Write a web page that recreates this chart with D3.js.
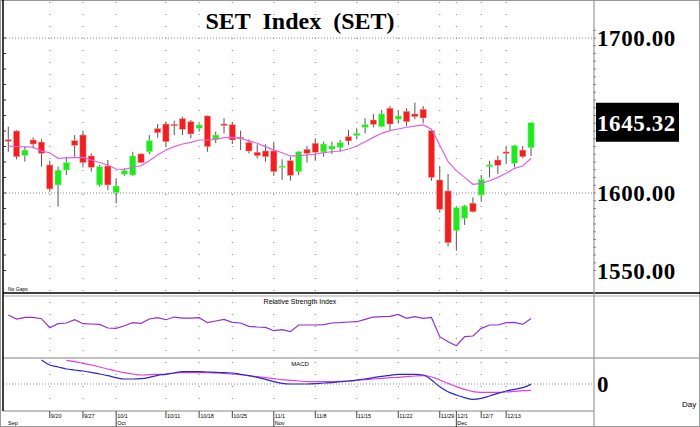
<!DOCTYPE html>
<html><head><meta charset="utf-8">
<script src="https://cdn.jsdelivr.net/npm/d3@7"></script>
<style>body{margin:0;background:#fff}svg{display:block}</style></head>
<body><svg id="c" width="700" height="427"></svg>
<script>
const opens=[1634.4,1640.0,1624.3,1634.2,1632.9,1618.1,1605.2,1614.8,1633.8,1637.4,1623.9,1605.2,1617.4,1600.2,1612.1,1611.6,1625.2,1626.6,1641.5,1644.5,1644.3,1647.9,1646.0,1641.8,1649.7,1634.8,1644.5,1644.1,1635.9,1632.5,1626.3,1627.1,1627.1,1616.6,1620.8,1613.8,1628.2,1632.1,1626.5,1628.2,1629.5,1636.3,1637.0,1642.4,1647.1,1642.8,1654.7,1647.6,1652.7,1651.0,1654.0,1640.2,1608.4,1601.3,1575.7,1583.7,1593.4,1598.7,1617.0,1621.3,1626.5,1619.2,1627.7,1629.2];
const closes=[1634.0,1623.4,1627.7,1631.6,1625.6,1602.6,1614.8,1619.6,1630.8,1619.6,1616.6,1617.0,1605.2,1604.5,1614.4,1623.9,1619.6,1633.8,1638.9,1633.1,1643.7,1641.1,1638.1,1643.9,1629.9,1637.4,1643.7,1634.2,1635.5,1627.1,1624.1,1623.4,1613.8,1617.4,1611.4,1626.6,1625.6,1626.3,1631.6,1630.3,1632.5,1633.6,1638.5,1644.1,1644.3,1651.0,1644.5,1649.7,1646.0,1649.2,1648.4,1610.1,1589.5,1567.9,1590.5,1591.6,1587.9,1608.8,1618.1,1617.9,1625.6,1630.5,1623.4,1645.32];
const highs=[1642.8,1640.5,1629.9,1635.9,1634.6,1620.8,1617.0,1623.4,1637.4,1640.2,1625.6,1618.1,1621.3,1609.5,1615.9,1626.6,1625.6,1637.4,1644.5,1646.0,1646.7,1649.2,1647.1,1645.0,1650.0,1639.6,1648.2,1645.8,1640.2,1634.6,1631.4,1631.4,1633.1,1621.7,1623.4,1627.0,1630.3,1635.3,1633.1,1633.1,1634.2,1640.7,1641.8,1648.2,1651.0,1653.6,1656.1,1653.1,1654.7,1658.3,1656.1,1641.1,1617.4,1612.3,1591.2,1592.3,1597.2,1611.6,1620.8,1623.9,1629.9,1631.0,1630.3,1645.4];
const lows=[1626.6,1621.7,1620.2,1628.8,1617.0,1600.8,1591.2,1611.6,1623.4,1616.6,1613.8,1604.1,1601.9,1593.4,1611.0,1611.0,1619.2,1625.0,1635.7,1629.9,1637.4,1637.4,1635.3,1639.6,1626.6,1632.1,1638.5,1631.6,1627.7,1625.6,1622.4,1620.2,1611.0,1608.4,1607.9,1611.6,1619.6,1620.8,1623.4,1625.2,1626.6,1631.0,1634.6,1638.5,1642.4,1642.4,1640.7,1645.0,1643.2,1647.6,1645.0,1607.9,1587.3,1565.4,1562.8,1579.4,1587.3,1594.4,1610.1,1612.3,1618.7,1616.6,1622.4,1623.9];
const ma=[1630.3,1630.0,1629.8,1629.5,1627.0,1626.0,1622.4,1622.6,1622.8,1623.0,1621.3,1619.7,1618.1,1615.5,1615.3,1616.6,1617.6,1620.8,1624.5,1627.7,1629.9,1631.6,1632.7,1634.2,1634.2,1634.6,1635.7,1635.9,1635.3,1633.6,1632.1,1629.9,1627.7,1626.0,1623.9,1623.9,1624.5,1625.0,1626.0,1626.6,1627.1,1628.4,1630.3,1633.1,1635.9,1638.5,1640.2,1641.3,1642.4,1643.2,1643.9,1641.1,1631.0,1620.2,1614.4,1610.1,1605.6,1606.2,1607.9,1610.1,1612.7,1615.9,1617.4,1622.4];
const rsi=[72.7,66.3,68.9,68.9,66.8,52.4,58.8,59.9,65.2,58.8,58.3,57.7,51.9,51.3,55.6,60.4,59.3,66.3,68.4,65.2,69.5,67.9,67.9,68.4,60.4,63.1,65.7,60.9,59.9,54.5,53.5,52.9,47.6,49.2,46.0,56.7,56.7,56.7,57.2,59.9,60.4,61.5,62.0,65.7,69.5,70.0,70.5,73.7,67.3,70.0,67.3,68.9,38.0,30.0,23.6,38.0,39.1,51.3,56.7,56.7,60.4,60.9,57.7,67.3];
const macd=[null,null,null,null,7.2,5.7,5.1,4.5,4.2,3.9,3.5,3.0,2.5,1.9,1.5,1.5,1.6,2.0,2.6,2.9,3.3,3.7,3.7,3.7,3.6,3.5,3.4,3.3,2.9,2.5,2.0,1.4,0.7,0.2,0,0,0,0.1,0.3,0.4,0.7,0.9,1.2,1.5,1.9,2.3,2.6,2.9,2.9,2.9,2.7,1.2,-0.8,-2.3,-3.3,-4.1,-4.6,-4.3,-3.6,-2.8,-2.1,-1.6,-1.1,-0.1];
const signal=[null,null,null,null,null,null,null,7.1,6.7,6.2,5.7,5.1,4.5,3.9,3.4,3.0,2.7,2.8,2.9,3.0,3.3,3.4,3.4,3.4,3.4,3.3,3.2,3.0,2.8,2.5,2.2,1.9,1.6,1.3,1.1,0.9,0.7,0.7,0.7,0.7,0.8,0.9,1.1,1.3,1.5,1.7,1.9,2.0,2.2,2.4,2.5,2.1,1.2,0.2,-0.8,-1.6,-2.3,-2.5,-2.5,-2.5,-2.4,-2.2,-2.0,-1.9];
const dayTicks=[[5,"9/20"],[9,"9/27"],[13,"10/1"],[19,"10/11"],[23,"10/18"],[27,"10/25"],[32,"11/1"],[37,"11/8"],[42,"11/15"],[47,"11/22"],[52,"11/29"],[54,"12/1"],[57,"12/7"],[60,"12/13"]];
const monthTicks=[[0,"Sep"],[13,"Oct"],[32,"Nov"],[54,"Dec"]];
const priceTicks=[1700,1600,1550];
const lastPrice=1645.32;

const svg=d3.select("#c");
const L=3,R=594;
const x=d3.scaleBand().domain(d3.range(opens.length)).range([3.1,3.1+8.33*opens.length]).padding(0.25);
const cx=i=>x(i)+x.bandwidth()/2;
const y=d3.scaleLinear().domain([1550,1700]).range([270.5,38]);
const yr=d3.scaleLinear().domain([0,100]).range([360.4,298]);
const ym=d3.scaleLinear().domain([-5,5]).range([400.7,367.3]);

svg.append("rect").attr("x",0.5).attr("y",0.5).attr("width",699).attr("height",426).attr("fill","none").attr("stroke","#999");
const grid=svg.append("g").attr("stroke","#777").attr("stroke-dasharray","1,11");
dayTicks.forEach(([i])=>{grid.append("line").attr("x1",cx(i)).attr("x2",cx(i)).attr("y1",2).attr("y2",410);});
[1700,1600].forEach(v=>svg.append("line").attr("x1",L).attr("x2",R).attr("y1",y(v)).attr("y2",y(v)).attr("stroke","#888").attr("stroke-dasharray","1,2"));
svg.append("line").attr("x1",L).attr("x2",R).attr("y1",ym(0)).attr("y2",ym(0)).attr("stroke","#888").attr("stroke-dasharray","1,2");

const cg=svg.append("g");
opens.forEach((o,i)=>{
  const c=closes[i],up=c>=o,col=up?"#22e822":"#f02020";
  cg.append("line").attr("x1",cx(i)).attr("x2",cx(i)).attr("y1",y(highs[i])).attr("y2",y(lows[i])).attr("stroke","#555").attr("stroke-width",1);
  const t=y(Math.max(o,c)),b=y(Math.min(o,c));
  cg.append("rect").attr("x",x(i)).attr("width",x.bandwidth()).attr("y",t).attr("height",Math.max(1.5,b-t)).attr("fill",col).attr("stroke",up?"#8f8":"#f99").attr("stroke-width",0.5);
});
svg.append("path").datum(ma).attr("fill","none").attr("stroke","#e060e0").attr("stroke-width",1.2)
 .attr("d",d3.line().x((d,i)=>cx(i)).y(d=>y(d)));
svg.append("text").attr("x",300).attr("y",29).attr("text-anchor","middle").attr("font-family","Liberation Serif").attr("font-weight","bold").attr("font-size",24).attr("word-spacing",6).text("SET Index (SET)");
svg.append("text").attr("x",8).attr("y",291).attr("font-family","Liberation Sans").attr("font-size",5).text("No Gaps");

svg.append("path").datum(rsi).attr("fill","none").attr("stroke","#9030d0").attr("stroke-width",1.2)
 .attr("d",d3.line().x((d,i)=>cx(i)).y(d=>yr(d)));
svg.append("text").attr("x",300).attr("y",304).attr("text-anchor","middle").attr("font-family","Liberation Sans").attr("font-size",7).text("Relative  Strength  Index");
const lm=d3.line().defined(d=>d!=null).x((d,i)=>cx(i)).y(d=>ym(d)).curve(d3.curveMonotoneX);
svg.append("path").datum(signal).attr("fill","none").attr("stroke","#e040e0").attr("stroke-width",1.2).attr("d",lm);
svg.append("path").datum(macd).attr("fill","none").attr("stroke","#2828c8").attr("stroke-width",1.2).attr("d",lm);
svg.append("text").attr("x",300).attr("y",366).attr("text-anchor","middle").attr("font-family","Liberation Sans").attr("font-size",6).text("MACD");

svg.append("line").attr("x1",L).attr("x2",700).attr("y1",293).attr("y2",293).attr("stroke","#000").attr("stroke-width",1.5);
svg.append("line").attr("x1",L).attr("x2",700).attr("y1",296).attr("y2",296).attr("stroke","#aaa").attr("stroke-width",1.2);
svg.append("line").attr("x1",L).attr("x2",700).attr("y1",358).attr("y2",358).attr("stroke","#aaa").attr("stroke-width",1.5);
svg.append("line").attr("x1",L).attr("x2",R).attr("y1",411).attr("y2",411).attr("stroke","#888");
svg.append("line").attr("x1",L).attr("x2",L).attr("y1",0).attr("y2",411).attr("stroke","#000").attr("stroke-width",1.5);
svg.append("line").attr("x1",R).attr("x2",R).attr("y1",0).attr("y2",427).attr("stroke","#999").attr("stroke-width",1.2);
const lt=svg.append("g").attr("stroke","#333");
d3.range(1550,1710,10).forEach(v=>lt.append("line").attr("x1",L).attr("x2",L+3).attr("y1",y(v)).attr("y2",y(v)));
d3.range(1550,1710,5).forEach(v=>lt.append("line").attr("x1",R-1).attr("x2",R+2).attr("y1",y(v)).attr("y2",y(v)).attr("stroke","#888"));
const lab=(t,yy,fill)=>svg.append("text").attr("x",597).attr("y",yy).attr("font-family","Liberation Serif").attr("font-weight","bold").attr("font-size",23).attr("letter-spacing",0.6).attr("fill",fill).text(t);
priceTicks.forEach(v=>lab(v.toFixed(2),y(v)+8,"#000"));
svg.append("rect").attr("x",596).attr("y",y(lastPrice)-20).attr("width",83).attr("height",39).attr("fill","#000");
lab(lastPrice.toFixed(2),y(lastPrice)+8,"#fff");
lab("0",ym(0)+8,"#000");
svg.append("text").attr("x",682).attr("y",407).attr("font-family","Liberation Sans").attr("font-size",8).text("Day");
const xg=svg.append("g").attr("font-family","Liberation Sans").attr("font-size",5.5);
dayTicks.forEach(([i,t])=>{xg.append("line").attr("x1",cx(i)).attr("x2",cx(i)).attr("y1",411).attr("y2",418).attr("stroke","#444");
 xg.append("text").attr("x",cx(i)+1).attr("y",418).text(t);});
monthTicks.forEach(([i,t])=>{const xx=i==0?8:cx(i)+1;
 if(i!=0) xg.append("line").attr("x1",cx(i)).attr("x2",cx(i)).attr("y1",418).attr("y2",427).attr("stroke","#444");
 xg.append("text").attr("x",xx).attr("y",425).text(t);});
</script></body></html>
